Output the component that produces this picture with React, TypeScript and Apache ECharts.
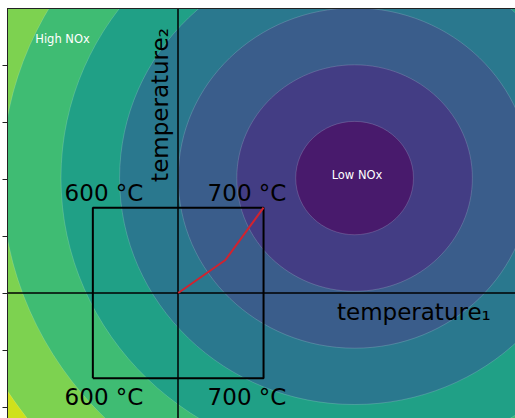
import React, { useEffect, useRef } from "react";
import * as echarts from "echarts";

// Contour levels (outermost first) of the NOx surface and the colour inside each level
const contourLevels = [8, 7, 6, 5, 4, 3, 2, 1];
const bandColors = ["#cfe11c", "#7dd250", "#3fbc73", "#20a086", "#2a788e", "#3a5d8b", "#433d84", "#481a6c"];
// ellipse describing each contour line: centre (x, y) and half-widths, in axis units
const contourCx = [3.1, 3.1, 3.1, 3.1, 3.1, 3.1, 3.1, 3.1];
const contourCy = [2.02, 2.02, 2.02, 2.02, 2.02, 2.02, 2.02, 2.02];
const contourRx = [8.26, 7.23, 6.2, 5.16, 4.13, 3.1, 2.07, 1.035];
const contourRy = [7.96, 6.97, 5.97, 4.98, 3.98, 2.99, 1.99, 0.996];

// operating window (square) and the optimisation path
const windowX = [-1.5, 1.5, 1.5, -1.5, -1.5];
const windowY = [-1.5, -1.5, 1.5, 1.5, -1.5];
const pathX = [0, 0.83, 1.5];
const pathY = [0, 0.58, 1.5];

const yTicks = [-2, -1, 0, 1, 2, 3, 4];
const tempLabels = ["600 °C", "700 °C"];

export default function App() {
  const ref = useRef<HTMLDivElement>(null);
  useEffect(() => {
    if (!ref.current) return;
    const chart = echarts.init(ref.current, undefined, { renderer: "svg" });
    const font = "DejaVu Sans";
    const contourData = contourLevels.map((_, i) => [contourCx[i], contourCy[i], contourRx[i], contourRy[i]]);
    const bigText = (text: string, x: number, y: number) => ({
      type: "text",
      x,
      y,
      z: 20,
      style: { text, fill: "#000", font: `23px "${font}"`, align: "center", verticalAlign: "middle" },
    });
    chart.setOption({
      animation: false,
      backgroundColor: "#ffffff",
      grid: { left: 7.5, top: 8.5, width: 9 * 56.9, height: 8 * 56.9, containLabel: false, outerBoundsMode: "none" },
      xAxis: {
        type: "value",
        min: -3,
        max: 6,
        position: "top",
        z: 10,
        axisLine: { show: true, onZero: false, lineStyle: { color: "#222", width: 1 } },
        axisTick: { show: false },
        axisLabel: { show: false },
        splitLine: { show: false },
      },
      yAxis: {
        type: "value",
        min: -3,
        max: 5,
        interval: 1,
        position: "left",
        z: 10,
        axisLine: { show: true, onZero: false, lineStyle: { color: "#222", width: 1 } },
        axisTick: { show: true, length: 5, inside: false, customValues: yTicks, lineStyle: { color: "#222", width: 1 } },
        axisLabel: { show: false },
        splitLine: { show: false },
      },
      series: [
        {
          type: "custom",
          z: 1,
          clip: true,
          silent: true,
          data: contourData,
          renderItem: (params: any, api: any) => {
            const i = params.dataIndex;
            const c = api.coord([api.value(0), api.value(1)]);
            const s = api.size([api.value(2), api.value(3)]);
            const cs = params.coordSys;
            return {
              type: "ellipse",
              shape: { cx: c[0], cy: c[1], rx: s[0], ry: s[1] },
              style: { fill: bandColors[i], stroke: "rgba(255,255,255,0.28)", lineWidth: 0.6 },
              clipPath: { type: "rect", shape: { x: cs.x, y: cs.y, width: cs.width, height: cs.height } },
            };
          },
        },
        {
          type: "line",
          z: 5,
          silent: true,
          symbol: "none",
          data: windowX.map((x, i) => [x, windowY[i]]),
          lineStyle: { color: "#000", width: 2 },
          markLine: {
            silent: true,
            symbol: "none",
            label: { show: false },
            lineStyle: { color: "#000", width: 1.5, type: "solid" },
            data: [{ xAxis: 0 }, { yAxis: 0 }],
          },
        },
        {
          type: "line",
          z: 6,
          silent: true,
          symbol: "none",
          data: pathX.map((x, i) => [x, pathY[i]]),
          lineStyle: { color: "#d1232f", width: 2 },
        },
      ],
      graphic: [
        { type: "text", x: 62.5, y: 38.5, z: 20, style: { text: "High NOx", fill: "#fff", font: `11.5px "${font}"`, align: "center", verticalAlign: "middle" } },
        { type: "text", x: 357, y: 174.5, z: 20, style: { text: "Low NOx", fill: "#fff", font: `11.5px "${font}"`, align: "center", verticalAlign: "middle" } },
        bigText(tempLabels[0], 104, 192.5),
        bigText(tempLabels[1], 247, 192.5),
        bigText(tempLabels[0], 104, 396.5),
        bigText(tempLabels[1], 247, 396.5),
        { type: "text", x: 337, y: 312, z: 20, style: { text: "temperature₁", fill: "#000", font: `23px "${font}"`, align: "left", verticalAlign: "middle" } },
        { type: "text", x: 160, y: 105, rotation: Math.PI / 2, z: 20, style: { text: "temperature₂", fill: "#000", font: `23px "${font}"`, align: "center", verticalAlign: "middle" } },
      ],
    });
    return () => chart.dispose();
  }, []);
  return <div ref={ref} style={{ position: "absolute", left: 0, top: 0, width: 515, height: 418, background: "#fff" }} />;
}
